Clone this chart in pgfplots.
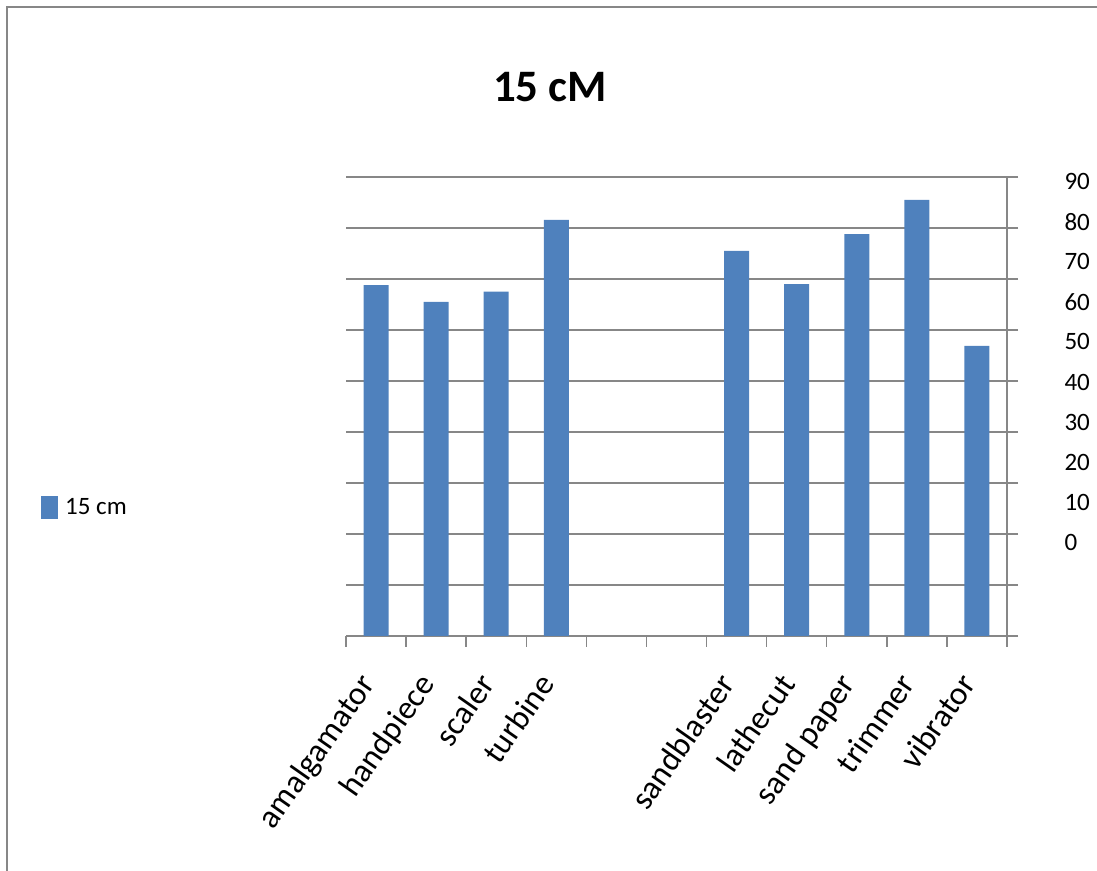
\documentclass[border=0pt]{standalone}
\usepackage{fontspec}
\setmainfont{Carlito}
\usepackage{pgfplots}
\pgfplotsset{compat=1.18}
\definecolor{barblue}{HTML}{4F81BD}
\definecolor{gridgray}{HTML}{878787}
\newcommand{\lblfont}{\fontsize{25bp}{30bp}\selectfont}
\newcommand{\catfont}{\fontsize{33bp}{38bp}\selectfont}
\begin{document}
\begin{tikzpicture}[x=1bp,y=1bp]
\path[use as bounding box] (0,0) rectangle (1097,871);
\draw[gridgray, line width=2bp] (7,0) -- (7,864) -- (1097,864);
\node[font=\fontsize{45bp}{52bp}\selectfont\bfseries] at (550,784) {15 cM};
\begin{axis}[
  at={(346bp,235bp)}, anchor=south west,
  scale only axis, width=661bp, height=459bp,
  xmin=0, xmax=11, ymin=0, ymax=90,
  axis x line*=bottom, axis y line*=right,
  axis line style={gridgray, line width=1.5bp, -},
  ymajorgrids, major grid style={gridgray, line width=1.5bp},
  ytick={0,10,...,90}, yticklabels={},
  xtick={0,...,11},
  x tick label as interval,
  xticklabels={amalgamator,handpiece,scaler,turbine,{},{},sandblaster,lathecut,sand paper,trimmer,vibrator},
  xticklabel style={xshift=-19bp, yshift=-24bp, rotate=55, anchor=north east, font=\catfont, inner sep=0bp},
  tick style={gridgray, line width=1.5bp},
  tick align=outside,
  major tick length=11bp,
  legend style={draw=none, fill=none, at={(axis description cs:-0.4614,0.281)}, anchor=west,
    inner sep=0pt, font=\fontsize{25bp}{30bp}\selectfont,
    /tikz/every odd column/.append style={column sep=5bp}},
  legend image code/.code={\fill[barblue] (0bp,-11.5bp) rectangle (17bp,11.5bp);},
]
\addplot[ybar, bar width=25bp, fill=barblue, draw=none] coordinates {
  (0.5,68.8) (1.5,65.5) (2.5,67.5) (3.5,81.6)
  (6.5,75.5) (7.5,69.0) (8.5,78.8) (9.5,85.5) (10.5,56.9)};
\addlegendentry{15 cm}
\end{axis}
\begin{axis}[
  at={(346bp,235bp)}, anchor=south west,
  scale only axis, width=661bp, height=459bp,
  xmin=0, xmax=11, ymin=-23.31, ymax=91.12,
  hide x axis, axis y line*=right,
  y axis line style={draw=none},
  ytick={0,10,...,90},
  major tick length=0pt, ytick style={draw=none},
  yticklabel style={font=\lblfont, anchor=west, xshift=54bp},
  /pgf/number format/assume math mode=true,
]
\end{axis}
\end{tikzpicture}
\end{document}
